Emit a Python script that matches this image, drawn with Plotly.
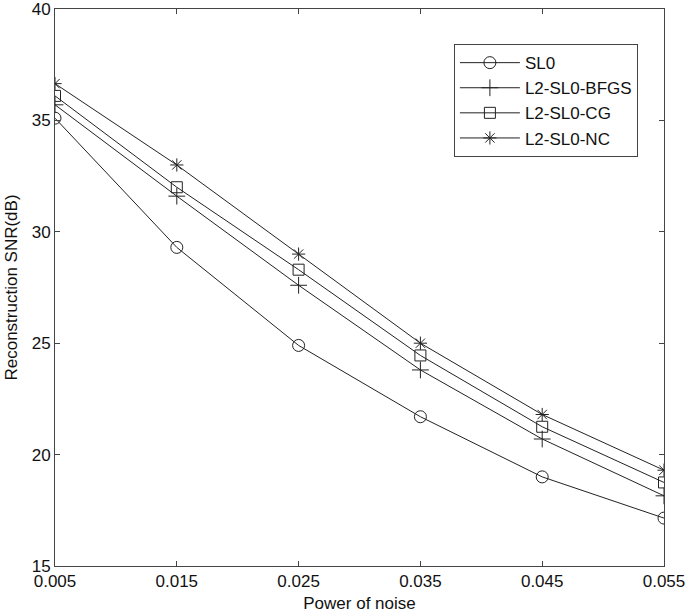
import plotly.graph_objects as go

noise = [0.005, 0.015, 0.025, 0.035, 0.045, 0.055]
sl0 = [35.1, 29.3, 24.9, 21.7, 19.0, 17.15]
bfgs = [35.7, 31.6, 27.6, 23.8, 20.7, 18.15]
cg = [36.1, 32.0, 28.3, 24.45, 21.25, 18.75]
nc = [36.65, 33.0, 29.0, 25.0, 21.8, 19.3]
x_ticks = [0.005, 0.015, 0.025, 0.035, 0.045, 0.055]
x_tick_labels = ["0.005", "0.015", "0.025", "0.035", "0.045", "0.055"]
y_ticks = [15, 20, 25, 30, 35, 40]

series = [
    ("SL0", sl0, "circle-open", 12),
    ("L2-SL0-BFGS", bfgs, "cross-thin-open", 12),
    ("L2-SL0-CG", cg, "square-open", 11),
    ("L2-SL0-NC", nc, "asterisk-open", 11),
]

fig = go.Figure()
for name, vals, sym, sz in series:
    fig.add_trace(go.Scatter(
        x=noise, y=vals, name=name, mode="lines+markers",
        line=dict(color="#222222", width=1),
        marker=dict(symbol=sym, size=sz, color="#222222",
                    line=dict(color="#222222", width=1)),
    ))

axis_common = dict(
    showline=True, linecolor="#444444", linewidth=1, mirror="ticks",
    ticks="inside", ticklen=5, tickcolor="#444444", showgrid=False,
    zeroline=False, automargin=False, ticklabeloverflow="allow",
    tickfont=dict(size=17, color="#111111"),
)

fig.update_xaxes(range=[0.005, 0.055], tickvals=x_ticks, ticktext=x_tick_labels,
                 title=dict(text="Power of noise", font=dict(size=17, color="#111111"), standoff=6),
                 **axis_common)
fig.update_yaxes(range=[15, 40], tickvals=y_ticks,
                 title=dict(text="Reconstruction SNR(dB)", font=dict(size=17, color="#111111"), standoff=9),
                 **axis_common)

fig.update_layout(
    width=685, height=615,
    margin=dict(l=55, r=21, t=9, b=49),
    paper_bgcolor="white", plot_bgcolor="white",
    font=dict(family="Liberation Sans, Arial, sans-serif", color="#111111"),
    legend=dict(x=0.655, y=0.937, xanchor="left", yanchor="top",
                bordercolor="#444444", borderwidth=1, bgcolor="white",
                itemwidth=60, font=dict(size=17)),
)

fig.write_html("out.html", config={"displayModeBar": False},
               post_script="document.body.style.margin='0';document.body.style.overflow='hidden';")
